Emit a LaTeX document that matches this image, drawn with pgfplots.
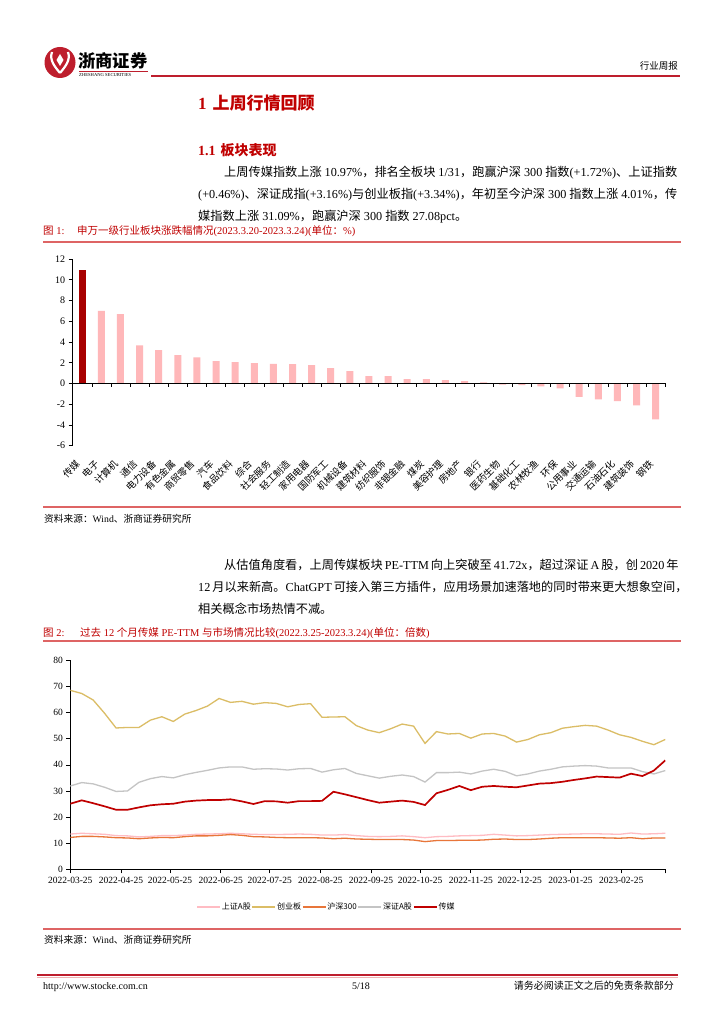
\documentclass[border=0pt]{standalone}
\usepackage{pgfplots}
\pgfplotsset{compat=1.18}
\usepackage{pgfplotstable}
\usepackage{fontspec}
\setmainfont{Liberation Serif}
\newfontfamily\cjk{Noto Sans CJK SC}
\XeTeXinterchartokenstate=1
\newXeTeXintercharclass\CJKc
\makeatletter
\def\setcjkrange#1#2{\count@=#1\relax\loop\XeTeXcharclass\count@=\CJKc\relax\ifnum\count@<#2\relax\advance\count@ by 1\relax\repeat}
\setcjkrange{"3000}{"303F}
\setcjkrange{"4E00}{"9FFF}
\setcjkrange{"FF00}{"FFEF}
\makeatother
\XeTeXinterchartoks 0 \CJKc = {\begingroup\cjk}
\XeTeXinterchartoks 4095 \CJKc = {\begingroup\cjk}
\XeTeXinterchartoks \CJKc 0 = {\endgroup}
\XeTeXinterchartoks \CJKc 4095 = {\endgroup}
\XeTeXinterchartoks \CJKc \CJKc = {\hskip 0pt plus 1pt\relax}

\definecolor{hdred}{RGB}{190,30,45}
\definecolor{capred}{RGB}{192,0,0}
\definecolor{rulered}{RGB}{222,100,100}
\definecolor{barred}{RGB}{168,0,0}
\definecolor{barpink}{RGB}{255,183,185}
\definecolor{lpink}{RGB}{255,188,195}
\definecolor{lgold}{RGB}{219,189,102}
\definecolor{lorange}{RGB}{232,118,58}
\definecolor{lgray}{RGB}{196,196,196}
\definecolor{lred}{RGB}{192,0,0}

\pgfplotstableread{
d sh cyb hs sz cm
0 13.5 68.5 12.2 31.9 25.1
7 13.8 67.3 12.6 33.2 26.4
14 13.6 64.8 12.6 32.7 25.3
21 13.4 59.7 12.4 31.4 24.1
28 12.9 54.1 12.1 29.8 22.8
35 12.8 54.3 12.0 30.0 22.8
42 12.4 54.3 11.7 33.3 23.7
49 12.6 57.1 12.0 34.7 24.5
56 12.9 58.4 12.2 35.5 24.9
63 12.9 56.6 12.1 35.0 25.1
70 13.1 59.4 12.5 36.2 25.9
77 13.4 60.8 12.8 37.1 26.3
84 13.5 62.5 12.8 37.9 26.5
91 13.6 65.4 13.0 38.8 26.5
98 13.8 63.9 13.3 39.2 26.8
105 13.6 64.3 13.0 39.2 26.0
112 13.4 63.2 12.5 38.3 25.0
119 13.3 63.8 12.4 38.5 26.1
126 13.3 63.5 12.2 38.4 26.0
133 13.4 62.2 12.1 38.0 25.5
140 13.5 63.1 12.1 38.5 26.1
147 13.4 63.4 12.1 38.6 26.1
154 13.1 58.2 12.0 37.2 26.2
161 13.1 58.3 11.7 38.1 29.7
168 13.3 58.4 11.9 38.6 28.7
175 12.9 55.0 11.6 36.7 27.6
182 12.6 53.3 11.5 35.8 26.5
189 12.5 52.3 11.4 34.9 25.5
196 12.6 53.8 11.4 35.6 25.9
203 12.8 55.6 11.4 36.1 26.3
210 12.5 54.8 11.2 35.5 25.8
217 12.1 48.2 10.6 33.4 24.6
224 12.5 52.7 11.0 37.0 29.1
231 12.6 51.8 11.0 37.0 30.4
238 12.8 52.0 11.1 37.2 31.9
245 12.9 50.2 11.1 36.5 30.3
252 13.0 51.8 11.2 37.6 31.6
259 13.4 52.0 11.5 38.3 31.9
266 13.1 51.0 11.6 37.5 31.6
273 12.8 48.7 11.4 35.8 31.4
280 12.9 49.7 11.4 36.5 32.1
287 13.1 51.5 11.6 37.6 32.8
294 13.3 52.3 11.9 38.3 33.0
301 13.4 54.0 12.1 39.2 33.5
308 13.5 54.6 12.1 39.5 34.2
315 13.6 55.1 12.1 39.7 34.8
322 13.6 54.8 12.1 39.5 35.5
329 13.5 53.3 12.0 38.8 35.3
336 13.4 51.5 11.9 38.8 35.1
343 13.9 50.5 12.1 38.8 36.6
350 13.5 49.0 11.7 37.4 35.7
357 13.6 47.7 12.0 36.5 37.8
364 13.8 49.7 12.0 37.8 41.7
}\pedata

\begin{document}
\begin{tikzpicture}
\useasboundingbox (0,0) rectangle (724pt,-1024pt);
\fill[white] (0,0) rectangle (724pt,-1024pt);
% ---------- header ----------
\fill[hdred] (60pt,-62.5pt) circle (15.5pt);
\draw[white, line width=2.2pt] (52pt,-52pt) .. controls (49pt,-60pt) and (55pt,-67pt) .. (60pt,-73pt);
\draw[white, line width=2.2pt] (68pt,-52pt) .. controls (71pt,-60pt) and (65pt,-67pt) .. (60pt,-73pt);
\fill[white] (60pt,-54pt) -- (63.5pt,-60pt) -- (60pt,-66pt) -- (56.5pt,-60pt) -- cycle;
\node[anchor=base west, inner sep=0pt, font=\bfseries\fontsize{17.3}{18}\selectfont] at (78pt,-68pt) {浙商证券};
\draw[hdred, line width=0.5pt] (79pt,-71pt) -- (148pt,-71pt);
\node[anchor=base west, inner sep=0pt, font=\fontsize{4.6}{5}\selectfont] at (79pt,-77pt) {ZHESHANG SECURITIES};
\draw[hdred, line width=1.6pt] (151pt,-76pt) -- (680pt,-76pt);
\node[anchor=base east, inner sep=0pt, font=\fontsize{9.5}{10}\selectfont] at (678pt,-69.5pt) {行业周报};
% ---------- headings ----------
\node[anchor=base west, inner sep=0pt, font=\bfseries\fontsize{17}{18}\selectfont, text=capred] at (198pt,-109.5pt) {1\hspace{6pt}上周行情回顾};
\node[anchor=base west, inner sep=0pt, font=\bfseries\fontsize{14}{15}\selectfont, text=capred] at (198pt,-156pt) {1.1\hspace{5pt}板块表现};
% ---------- paragraphs ----------
\begin{scope}[every node/.style={anchor=base west, inner sep=0pt, font=\fontsize{12.2}{14}\selectfont}]
\node at (224pt,-176.5pt) {\makebox[453pt][s]{上周传媒指数上涨 10.97\%，排名全板块 1/31，跑赢沪深 300 指数(+1.72\%)、上证指数}};
\node at (198pt,-198.5pt) {\makebox[479pt][s]{(+0.46\%)、深证成指(+3.16\%)与创业板指(+3.34\%)，年初至今沪深 300 指数上涨 4.01\%，传}};
\node at (198pt,-220.5pt) {媒指数上涨 31.09\%，跑赢沪深 300 指数 27.08pct。};
\node at (224pt,-569.5pt) {\makebox[453pt][s]{从估值角度看，上周传媒板块 PE-TTM 向上突破至 41.72x，超过深证 A 股，创 2020 年}};
\node at (198pt,-591.5pt) {\makebox[479pt][s]{12 月以来新高。ChatGPT 可接入第三方插件，应用场景加速落地的同时带来更大想象空间，}};
\node at (198pt,-613.5pt) {相关概念市场热情不减。};
\end{scope}
% ---------- captions and rules ----------
\begin{scope}[every node/.style={anchor=base west, inner sep=0pt, font=\fontsize{10.5}{11}\selectfont, text=capred}]
\node at (43pt,-235pt) {图 1:};
\node at (77pt,-235pt) {申万一级行业板块涨跌幅情况(2023.3.20-2023.3.24)(单位：\%)};
\node at (43pt,-636pt) {图 2:};
\node at (80pt,-636pt) {过去 12 个月传媒 PE-TTM 与市场情况比较(2022.3.25-2023.3.24)(单位：倍数)};
\end{scope}
\draw[rulered, line width=1.2pt] (43pt,-242pt) -- (681pt,-242pt);
\draw[rulered, line width=1.2pt] (43pt,-507pt) -- (681pt,-507pt);
\draw[rulered, line width=1.2pt] (43pt,-641pt) -- (681pt,-641pt);
\draw[rulered, line width=1.2pt] (43pt,-929pt) -- (681pt,-929pt);
\begin{scope}[every node/.style={anchor=base west, inner sep=0pt, font=\fontsize{9.7}{10}\selectfont}]
\node at (44pt,-522.5pt) {资料来源：Wind、浙商证券研究所};
\node at (44pt,-943.5pt) {资料来源：Wind、浙商证券研究所};
\end{scope}
% ---------- footer ----------
\draw[hdred, line width=1.2pt] (37pt,-975pt) -- (678pt,-975pt);
\draw[rulered!50, line width=0.8pt] (37pt,-977pt) -- (678pt,-977pt);
\node[anchor=base west, inner sep=0pt, font=\fontsize{10}{11}\selectfont] at (43pt,-989.5pt) {http://www.stocke.com.cn};
\node[anchor=base, inner sep=0pt, font=\fontsize{10}{11}\selectfont] at (361pt,-989.5pt) {5/18};
\node[anchor=base east, inner sep=0pt, font=\fontsize{10}{11}\selectfont] at (674pt,-989.5pt) {请务必阅读正文之后的免责条款部分};

% ---------- chart 1 ----------
\begin{axis}[
  at={(72.7pt,-445.7pt)}, anchor=south west,
  scale only axis, width=592.5pt, height=186.7pt,
  xmin=-0.5, xmax=30.5, ymin=-6, ymax=12,
  axis x line*=bottom, axis y line*=left,
  axis line style={-, line width=0.6pt},
  x axis line style={draw=none},
  xtick={0,...,30},
  xticklabels={传媒,电子,计算机,通信,电力设备,有色金属,商贸零售,汽车,食品饮料,综合,社会服务,轻工制造,家用电器,国防军工,机械设备,建筑材料,纺织服饰,非银金融,煤炭,美容护理,房地产,银行,医药生物,基础化工,农林牧渔,环保,公用事业,交通运输,石油石化,建筑装饰,钢铁},
  xtick style={draw=none},
  xticklabel style={yshift=-11.5pt, xshift=-3.5pt, rotate=45, anchor=east, font=\cjk\fontsize{9.5}{10}\selectfont, inner sep=1pt},
  ytick={-6,-4,...,12},
  ytick style={draw=black, line width=0.6pt},
  tick align=outside, major tick length=4pt,
  /pgf/number format/assume math mode=true,
  yticklabel style={font=\fontsize{10}{10}\selectfont},
  clip=false,
]
\addplot[ybar, bar width=7pt, bar shift=0pt, fill=barred, draw=none] coordinates {(0,10.97)};
\addplot[ybar, bar width=7pt, bar shift=0pt, fill=barpink, draw=none] coordinates {
(1,7.00) (2,6.69) (3,3.67) (4,3.22) (5,2.73) (6,2.51) (7,2.16) (8,2.06) (9,1.96) (10,1.90)
(11,1.87) (12,1.77) (13,1.48) (14,1.19) (15,0.71) (16,0.70) (17,0.42) (18,0.42) (19,0.32) (20,0.22)
(21,0.10) (22,-0.10) (23,-0.16) (24,-0.29) (25,-0.48) (26,-1.29) (27,-1.54) (28,-1.71) (29,-2.12) (30,-3.47)};
\draw[black, line width=0.6pt] (axis cs:-0.5,0) -- (axis cs:30.5,0);
\pgfplotsinvokeforeach{0.5,1.5,...,30.5}{\draw[black, line width=0.6pt] (axis cs:#1,0) -- ++(0pt,-4pt);}
\end{axis}

% ---------- chart 2 ----------
\begin{axis}[
  at={(70.3pt,-869.3pt)}, anchor=south west,
  scale only axis, width=595pt, height=209pt,
  xmin=0, xmax=364, ymin=0, ymax=80,
  axis x line*=bottom, axis y line*=left,
  axis line style={-, line width=0.6pt},
  tick align=outside, major tick length=4pt,
  tick style={draw=black, line width=0.6pt},
  xtick={0,31,61,92,122,153,184,214,245,275,306,337,364},
  xticklabels={2022-03-25,2022-04-25,2022-05-25,2022-06-25,2022-07-25,2022-08-25,2022-09-25,2022-10-25,2022-11-25,2022-12-25,2023-01-25,2023-02-25,{}},
  ytick={0,10,...,80},
  /pgf/number format/assume math mode=true,
  xticklabel style={font=\fontsize{9.5}{10}\selectfont},
  yticklabel style={font=\fontsize{9.5}{10}\selectfont},
  legend style={at={(0.43,-0.18)}, anchor=center, draw=none, fill=none, legend columns=5,
    font=\cjk\fontsize{8}{9}\selectfont, inner sep=0pt, nodes={inner sep=1pt},
    /tikz/every even column/.append style={column sep=0pt}},
  legend image code/.code={\draw[#1] (0pt,0pt) -- (23pt,0pt);},
]
\addplot[lpink, line width=1.3pt] table[x=d, y=sh] {\pedata};
\addlegendentry{上证A股}
\addplot[lgold, line width=1.3pt] table[x=d, y=cyb] {\pedata};
\addlegendentry{创业板}
\addplot[lorange, line width=1.3pt] table[x=d, y=hs] {\pedata};
\addlegendentry{沪深300}
\addplot[lgray, line width=1.3pt] table[x=d, y=sz] {\pedata};
\addlegendentry{深证A股}
\addplot[lred, line width=1.7pt] table[x=d, y=cm] {\pedata};
\addlegendentry{传媒}
\end{axis}
\end{tikzpicture}
\end{document}
